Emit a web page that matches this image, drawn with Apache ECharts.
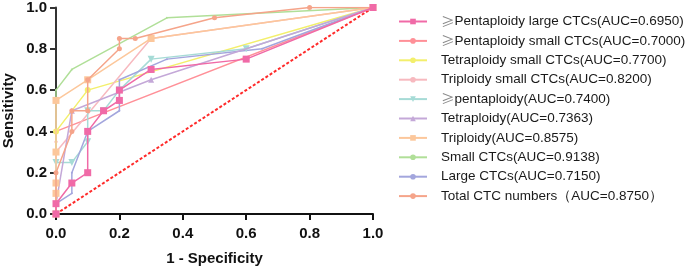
<!DOCTYPE html>
<html>
<head>
<meta charset="utf-8">
<script src="https://cdn.jsdelivr.net/npm/echarts@6/dist/echarts.min.js"></script>
<style>
  html, body { margin: 0; padding: 0; background: #fff; }
  #roc { width: 685px; height: 271px; }
</style>
</head>
<body>
<div id="roc"></div>
<script>
// ROC points [1 - specificity, sensitivity]
const pentaLargeCTCs = [[0,0],[0,0.05],[0.05,0.15],[0.1,0.2],[0.1,0.4],[0.15,0.5],[0.2,0.55],[0.2,0.6],[0.3,0.7],[0.6,0.75],[1,1]];
const pentaSmallCTCs = [[0,0],[0,0.35],[0,0.4],[1,1]];
const tetraSmallCTCs = [[0,0],[0,0.4],[0.1,0.6],[1,1]];
const triSmallCTCs = [[0,0],[0,0.3],[0.3,0.85],[1,1]];
const pentaploidy = [[0,0],[0,0.25],[0.05,0.25],[0.1,0.35],[0.1,0.5],[0.15,0.5],[0.2,0.6],[0.3,0.75],[0.6,0.8],[1,1]];
const tetraploidy = [[0,0],[0,0.05],[0.05,0.5],[0.3,0.65],[1,1]];
const triploidy = [[0,0],[0,0.1],[0,0.15],[0,0.3],[0,0.55],[0.1,0.65],[0.3,0.85],[1,1]];
const smallCTCs = [[0,0],[0,0.6],[0.05,0.7],[0.35,0.95],[1,1]];
const largeCTCs = [[0,0],[0,0.05],[0.05,0.1],[0.05,0.2],[0.1,0.4],[0.2,0.5],[0.2,0.65],[0.35,0.75],[0.65,0.8],[1,1]];
const totalCTCs = [[0,0],[0,0.2],[0.05,0.4],[0.05,0.5],[0.1,0.5],[0.1,0.65],[0.2,0.8],[0.2,0.85],[0.25,0.85],[0.5,0.95],[0.8,1],[1,1]];
const referenceLine = [[0,0],[1,1]];

const seriesNames = [
  '≥Pentaploidy large CTCs(AUC=0.6950)',
  '≥Pentaploidy small CTCs(AUC=0.7000)',
  'Tetraploidy small CTCs(AUC=0.7700)',
  'Triploidy small CTCs(AUC=0.8200)',
  '≥pentaploidy(AUC=0.7400)',
  'Tetraploidy(AUC=0.7363)',
  'Triploidy(AUC=0.8575)',
  'Small CTCs(AUC=0.9138)',
  'Large CTCs(AUC=0.7150)',
  'Total CTC numbers（AUC=0.8750）'
];
const seriesData = [pentaLargeCTCs, pentaSmallCTCs, tetraSmallCTCs, triSmallCTCs, pentaploidy,
  tetraploidy, triploidy, smallCTCs, largeCTCs, totalCTCs];

const colors = ['#f06aa7', '#ff9098', '#f3ef6c', '#f7b9bf', '#a6dbd6', '#c4a8d8', '#fcc79b', '#b0df98', '#a3a6dd', '#f5a48a'];
const symbols = ['rect', 'circle', 'circle', 'circle', 'triangle', 'triangle', 'rect', 'circle', 'circle', 'circle'];
const symbolSizes = [7, 3, 6, 4, 7, 6, 7, 2, 2, 5];
const zOrder = [20, 11, 12, 13, 14, 15, 16, 12, 14, 17];

const chart = echarts.init(document.getElementById('roc'), null, { renderer: 'canvas' });

const series = seriesData.map((d, i) => ({
  name: seriesNames[i],
  type: 'line',
  data: d,
  symbol: symbols[i],
  symbolSize: symbolSizes[i],
  symbolRotate: i === 4 ? 180 : 0,
  showAllSymbol: true,
  z: zOrder[i],
  itemStyle: { color: colors[i] },
  lineStyle: { color: colors[i], width: 1.5 },
  emphasis: { disabled: true },
  animation: false
}));

series.push({  // 参考线
  name: 'ref',
  type: 'line',
  data: referenceLine,
  symbol: 'none',
  z: 5,
  lineStyle: { color: '#ff2a2a', width: 2, type: [3, 2] },
  animation: false
});

const tickFont = { fontFamily: 'Liberation Sans, Arial', fontWeight: 'bold', fontSize: 15, color: '#111' };

chart.setOption({
  animation: false,
  grid: { left: 56, right: 312, top: 6, bottom: 54.3, containLabel: false },
  legend: {
    data: seriesNames,
    orient: 'vertical',
    left: 393,
    top: 9,
    itemWidth: 28,
    itemHeight: 7,
    itemGap: 4.4,
    textStyle: {
      fontFamily: 'Liberation Sans, Arial',
      fontSize: 13.5,
      lineHeight: 15,
      color: '#1a1a1a',
      padding: [0, 0, 0, 9],
      rich: {
        g: { fontFamily: 'Noto Sans CJK SC', fontSize: 13.5, color: '#8a8a8a' }
      }
    },
    formatter: name => name.replace('≥', '{g|≥}')
  },
  xAxis: {
    type: 'value',
    min: 0,
    max: 1,
    interval: 0.2,
    name: '1 - Specificity',
    nameLocation: 'middle',
    nameGap: 37,
    nameTextStyle: { fontFamily: 'Liberation Sans, Arial', fontWeight: 'bold', fontSize: 15, color: '#111' },
    axisLine: { onZero: false, lineStyle: { color: '#111', width: 2 } },
    axisTick: { show: true, length: 6, lineStyle: { color: '#111', width: 2 } },
    axisLabel: Object.assign({ margin: 12, formatter: v => v.toFixed(1) }, tickFont),
    splitLine: { show: false }
  },
  yAxis: {
    type: 'value',
    min: 0,
    max: 1,
    interval: 0.2,
    name: 'Sensitivity',
    nameLocation: 'middle',
    nameGap: 40,
    nameTextStyle: { fontFamily: 'Liberation Sans, Arial', fontWeight: 'bold', fontSize: 15, color: '#111' },
    axisLine: { show: true, onZero: false, lineStyle: { color: '#333', width: 2 } },
    axisTick: { show: true, length: 6, lineStyle: { color: '#333', width: 2 } },
    axisLabel: Object.assign({ margin: 9, formatter: v => v.toFixed(1) }, tickFont),
    splitLine: { show: false }
  },
  series
});
</script>
</body>
</html>
